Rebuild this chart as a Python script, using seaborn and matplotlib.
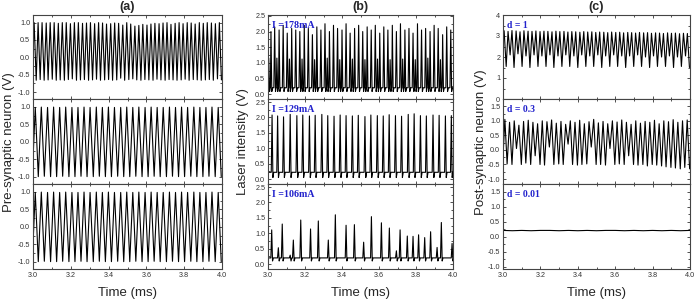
import numpy as np
import pandas as pd
import matplotlib
matplotlib.use("Agg")
import matplotlib.pyplot as plt
from matplotlib.ticker import MultipleLocator, FormatStrFormatter
import seaborn as sns

# ---------------- data ----------------
# (a) top: pre-synaptic neuron, fast oscillation
a1_peak_t = [3.006, 3.027, 3.048, 3.070, 3.091, 3.112, 3.134, 3.155, 3.176, 3.198,
             3.219, 3.240, 3.262, 3.283, 3.304, 3.326, 3.347, 3.368, 3.389, 3.411,
             3.432, 3.453, 3.475, 3.496, 3.517, 3.539, 3.560, 3.581, 3.603, 3.624,
             3.645, 3.667, 3.688, 3.709, 3.730, 3.752, 3.773, 3.794, 3.816, 3.837,
             3.858, 3.880, 3.901, 3.922, 3.944, 3.965, 3.986]
a1_peak_v = [1.0, 1.0, 1.0, 0.99, 1.0, 1.0, 0.98, 1.0, 1.0, 0.97,
             1.0, 1.0, 0.98, 0.99, 1.0, 0.97, 1.0, 0.99, 0.96, 0.97,
             0.99, 0.98, 0.93, 1.0, 0.96, 0.90, 0.92, 0.95, 0.93, 0.96,
             0.98, 0.97, 0.99, 1.0, 0.95, 0.98, 1.0, 0.97, 1.0, 0.99,
             0.96, 1.0, 0.98, 1.0, 0.99, 0.97, 1.0]
a1_trough_t = [2.995, 3.017, 3.038, 3.059, 3.080, 3.102, 3.123, 3.144, 3.166, 3.187,
               3.208, 3.230, 3.251, 3.272, 3.294, 3.315, 3.336, 3.357, 3.379, 3.400,
               3.421, 3.443, 3.464, 3.485, 3.507, 3.528, 3.549, 3.571, 3.592, 3.613,
               3.635, 3.656, 3.677, 3.699, 3.720, 3.741, 3.762, 3.784, 3.805, 3.826,
               3.848, 3.869, 3.890, 3.912, 3.933, 3.954, 3.976, 3.997]
a1_trough_v = [-0.65, -0.66, -0.64, -0.66, -0.65, -0.63, -0.66, -0.65, -0.66, -0.64,
               -0.62, -0.66, -0.65, -0.64, -0.66, -0.65, -0.63, -0.66, -0.65, -0.64,
               -0.66, -0.65, -0.60, -0.66, -0.64, -0.62, -0.65, -0.66, -0.64, -0.65,
               -0.66, -0.63, -0.65, -0.66, -0.64, -0.65, -0.66, -0.65, -0.63, -0.66,
               -0.64, -0.65, -0.66, -0.65, -0.64, -0.66, -0.62, -0.65]

# (a) middle and bottom: regular oscillation (same trace)
a2_peak_t = [3.012, 3.044, 3.077, 3.109, 3.141, 3.173, 3.206, 3.238, 3.270, 3.302,
             3.335, 3.367, 3.399, 3.431, 3.464, 3.496, 3.528, 3.560, 3.593, 3.625,
             3.657, 3.689, 3.722, 3.754, 3.786, 3.818, 3.851, 3.883, 3.915, 3.947,
             3.980]
a2_peak_v = [0.98, 0.99, 0.98, 0.99, 0.98, 0.99, 0.98, 0.98, 0.99, 0.98,
             0.99, 0.98, 0.99, 0.98, 0.98, 0.99, 0.98, 0.99, 0.98, 0.99,
             0.98, 0.98, 0.99, 0.98, 0.99, 0.98, 0.99, 0.98, 0.98, 0.99,
             0.98]
a2_trough_t = [2.996, 3.028, 3.060, 3.093, 3.125, 3.157, 3.190, 3.222, 3.254, 3.286,
               3.319, 3.351, 3.383, 3.415, 3.448, 3.480, 3.512, 3.544, 3.577, 3.609,
               3.641, 3.673, 3.706, 3.738, 3.770, 3.802, 3.835, 3.867, 3.899, 3.931,
               3.964, 3.996]
a2_trough_v = [-0.99, -0.99, -0.98, -0.99, -0.99, -0.98, -0.99, -0.99, -0.98, -0.99,
               -0.99, -0.98, -0.99, -0.99, -0.98, -0.99, -0.99, -0.98, -0.99, -0.99,
               -0.98, -0.99, -0.99, -0.98, -0.99, -0.99, -0.98, -0.99, -0.99, -0.98,
               -0.99, -0.99]

# (b) top: I = 178 mA, irregular spikes
b1_spike_t = [3.004, 3.016, 3.036, 3.048, 3.060, 3.082, 3.104, 3.116, 3.128, 3.150,
              3.172, 3.184, 3.196, 3.218, 3.240, 3.252, 3.264, 3.286, 3.308, 3.320,
              3.332, 3.354, 3.376, 3.388, 3.400, 3.422, 3.444, 3.456, 3.468, 3.490,
              3.512, 3.524, 3.536, 3.558, 3.580, 3.592, 3.604, 3.626, 3.648, 3.660,
              3.672, 3.694, 3.716, 3.728, 3.740, 3.762, 3.784, 3.796, 3.808, 3.830,
              3.852, 3.864, 3.876, 3.898, 3.920, 3.932, 3.944, 3.966, 3.988]
b1_spike_v = [1.15, 2.00, 2.15, 1.15, 2.05, 2.20, 1.95, 1.12, 2.10, 2.05,
              2.00, 1.12, 2.20, 2.10, 1.90, 1.10, 2.15, 2.05, 2.25, 1.15,
              2.00, 2.20, 2.10, 1.10, 2.05, 2.25, 1.95, 1.12, 2.10, 2.20,
              2.00, 1.10, 2.15, 2.05, 2.20, 1.12, 1.95, 2.15, 2.05, 1.10,
              2.20, 2.00, 2.25, 1.12, 2.05, 2.10, 1.95, 1.10, 2.25, 2.05,
              2.10, 1.15, 2.00, 2.20, 2.10, 1.10, 1.90, 2.15, 2.05]

# (b) middle: I = 129 mA, regular spikes
b2_spike_t = [3.022, 3.052, 3.084, 3.120, 3.156, 3.188, 3.224, 3.255, 3.291, 3.323,
              3.357, 3.390, 3.422, 3.456, 3.488, 3.524, 3.556, 3.591, 3.623, 3.655,
              3.689, 3.722, 3.758, 3.790, 3.824, 3.856, 3.892, 3.925, 3.959, 3.991]
b2_spike_v = [2.08, 2.05, 2.02, 2.10, 2.06, 2.08, 2.05, 2.07, 2.10, 2.06,
              2.04, 2.08, 2.06, 2.05, 2.07, 2.03, 2.08, 2.06, 2.05, 2.09,
              2.06, 2.04, 2.10, 2.12, 2.06, 2.05, 2.08, 2.07, 2.05, 2.06]

# (b) bottom: I = 106 mA, sparse spikes
b3_spike_t = [3.020, 3.056, 3.077, 3.120, 3.137, 3.177, 3.230, 3.272, 3.326, 3.364,
              3.422, 3.467, 3.517, 3.559, 3.613, 3.656, 3.694, 3.714, 3.753, 3.784,
              3.814, 3.847, 3.879, 3.914, 3.937, 3.995]
b3_spike_v = [1.11, 0.53, 1.30, 0.29, 0.78, 1.43, 1.14, 1.40, 0.78, 1.60,
              1.26, 1.28, 0.71, 1.54, 1.34, 1.17, 0.43, 1.11, 0.91, 0.90,
              0.95, 0.86, 1.05, 0.54, 1.35, 0.67]

# (c) top: d = 1
c1_peak_t = a1_peak_t
c1_peak_v = [3.25, 3.22, 3.26, 3.24, 3.20, 3.25, 3.23, 3.22, 3.24, 3.21,
             3.23, 3.22, 3.20, 3.23, 3.21, 3.22, 3.19, 3.21, 3.20, 3.18,
             3.21, 3.19, 3.20, 3.17, 3.19, 3.18, 3.16, 3.19, 3.17, 3.18,
             3.15, 3.17, 3.16, 3.14, 3.17, 3.15, 3.16, 3.13, 3.15, 3.14,
             3.12, 3.15, 3.13, 3.14, 3.11, 3.13, 3.12]
c1_trough_t = a1_trough_t
c1_trough_v = [2.10, 1.55, 2.10, 1.50, 2.15, 1.55, 2.05, 1.50, 2.10, 1.55,
               2.05, 1.55, 2.10, 1.50, 2.05, 1.55, 2.10, 1.55, 2.05, 1.50,
               2.10, 1.55, 2.05, 1.55, 2.10, 1.50, 2.05, 1.55, 2.10, 1.55,
               2.05, 1.50, 2.05, 1.55, 2.10, 1.55, 2.00, 1.50, 2.05, 1.55,
               2.00, 1.55, 2.05, 1.50, 2.00, 1.55, 2.05, 1.50]

# (c) middle: d = 0.3
c2_peak_t = [3.010, 3.035, 3.060, 3.085, 3.110, 3.135, 3.160, 3.185, 3.210, 3.235,
             3.260, 3.285, 3.310, 3.335, 3.360, 3.385, 3.410, 3.435, 3.460, 3.485,
             3.510, 3.535, 3.560, 3.585, 3.610, 3.635, 3.660, 3.685, 3.710, 3.735,
             3.760, 3.785, 3.810, 3.835, 3.860, 3.885, 3.910, 3.935, 3.960, 3.985]
c2_peak_v = [1.05, 0.95, 1.00, 0.85, 0.98, 1.02, 0.95, 0.90, 1.00, 0.97,
             1.03, 0.92, 0.98, 0.88, 1.00, 0.95, 1.02, 0.90, 0.97, 1.05,
             0.93, 0.98, 0.90, 1.00, 0.96, 1.03, 0.95, 0.88, 1.00, 0.92,
             0.98, 0.95, 1.02, 0.90, 1.00, 0.97, 1.04, 0.95, 1.00, 1.03]
c2_trough_t = [2.998, 3.022, 3.048, 3.072, 3.098, 3.122, 3.148, 3.172, 3.198, 3.222,
               3.248, 3.272, 3.298, 3.322, 3.348, 3.372, 3.398, 3.422, 3.448, 3.472,
               3.498, 3.522, 3.548, 3.572, 3.598, 3.622, 3.648, 3.672, 3.698, 3.722,
               3.748, 3.772, 3.798, 3.822, 3.848, 3.872, 3.898, 3.922, 3.948, 3.972,
               3.998]
c2_trough_v = [-0.50, -0.48, -0.50, 0.05, -0.50, -0.45, -0.50, -0.20, -0.50, -0.52,
               0.10, -0.50, -0.48, -0.50, 0.20, -0.50, -0.52, -0.50, -0.48, 0.10,
               -0.50, -0.50, -0.52, 0.05, -0.50, -0.48, -0.50, -0.20, -0.50, -0.52,
               -0.50, -0.55, -0.50, -0.52, -0.55, -0.58, -0.60, -0.62, -0.65, -0.60,
               -0.65]

# (c) bottom: d = 0.01, flat trace
c3_t = [3.00, 3.05, 3.10, 3.15, 3.20, 3.25, 3.30, 3.35, 3.40, 3.45, 3.50,
        3.55, 3.60, 3.65, 3.70, 3.75, 3.80, 3.85, 3.90, 3.95, 4.00]
c3_v = [0.21, 0.20, 0.21, 0.20, 0.21, 0.21, 0.20, 0.21, 0.20, 0.21, 0.20,
        0.21, 0.21, 0.20, 0.21, 0.20, 0.21, 0.20, 0.21, 0.20, 0.21]

panel_titles = ["(a)", "(b)", "(c)"]
y_labels = ["Pre-synaptic neuron (V)", "Laser intensity (V)", "Post-synaptic neuron (V)"]
b_labels = ["I =178mA", "I =129mA", "I =106mA"]
c_labels = ["d = 1", "d = 0.3", "d = 0.01"]


def extrema_frame(pt, pv, tt, tv):
    df = pd.DataFrame({"t": list(pt) + list(tt), "v": list(pv) + list(tv)})
    return df.sort_values("t")


def spike_frame(times, heights, base=0.2, dip=0.06, w=0.0045):
    rows = [(2.99, base)]
    for t, h in zip(times, heights):
        rows += [(t - w, base), (t, h), (t + w, dip), (t + 2 * w, base)]
    rows.append((4.01, base))
    return pd.DataFrame(rows, columns=["t", "v"])


traces = [
    [extrema_frame(a1_peak_t, a1_peak_v, a1_trough_t, a1_trough_v),
     extrema_frame(a2_peak_t, a2_peak_v, a2_trough_t, a2_trough_v),
     extrema_frame(a2_peak_t, a2_peak_v, a2_trough_t, a2_trough_v)],
    [spike_frame(b1_spike_t, b1_spike_v, base=0.2, dip=0.08),
     spike_frame(b2_spike_t, b2_spike_v, base=0.22, dip=0.05),
     spike_frame(b3_spike_t, b3_spike_v, base=0.2, dip=0.1)],
    [extrema_frame(c1_peak_t, c1_peak_v, c1_trough_t, c1_trough_v),
     extrema_frame(c2_peak_t, c2_peak_v, c2_trough_t, c2_trough_v),
     pd.DataFrame({"t": c3_t, "v": c3_v})],
]

# ---------------- figure ----------------
sns.set_style("ticks")
plt.rcParams["font.family"] = ["Liberation Sans", "DejaVu Sans"]

W, H = 697, 308
fig = plt.figure(figsize=(W / 100, H / 100), dpi=100)

col_left = [33, 268, 503]
col_width = [189, 185, 187]
row_edges = [15, 99, 184, 269]

ylims = [[(-1.2, 1.22)] * 3,
         [(-0.16, 2.53), (-0.16, 2.6), (-0.16, 2.6)],
         [(0, 4), (-1.17, 1.75), (-1.07, 1.75)]]
ymajor = [[0.5] * 3, [0.5] * 3, [1, 0.5, 0.5]]
yfmt = [["%.1f"] * 3, ["%.1f"] * 3, ["%d", "%.1f", "%.1f"]]

lab_color = "#2222cc"

for c in range(3):
    for r in range(3):
        top = row_edges[r]
        bot = row_edges[r + 1]
        ax = fig.add_axes([col_left[c] / W, 1 - bot / H, col_width[c] / W, (bot - top) / H])
        df = traces[c][r]
        sns.lineplot(data=df, x="t", y="v", ax=ax, color="black", lw=0.8,
                     estimator=None, sort=True)
        ax.set_xlim(3.0, 4.0)
        ax.set_ylim(*ylims[c][r])
        ax.set_xlabel("")
        ax.set_ylabel("")
        ax.xaxis.set_major_locator(MultipleLocator(0.2))
        ax.xaxis.set_minor_locator(MultipleLocator(0.1))
        ax.yaxis.set_major_locator(MultipleLocator(ymajor[c][r]))
        ax.yaxis.set_minor_locator(MultipleLocator(ymajor[c][r] / 2))
        ax.yaxis.set_major_formatter(FormatStrFormatter(yfmt[c][r]))
        ax.tick_params(which="both", direction="in", top=True, right=True,
                       length=2.5, width=0.6, colors="#333333", labelsize=5.2, pad=2)
        ax.tick_params(which="minor", length=1.5)
        for s in ax.spines.values():
            s.set_linewidth(0.8)
            s.set_color("#444444")
        if r < 2:
            ax.tick_params(labelbottom=False)
        else:
            ax.xaxis.set_major_formatter(FormatStrFormatter("%.1f"))
        if c == 1:
            ax.text(0.02, 0.88, b_labels[r], transform=ax.transAxes, color=lab_color,
                    fontsize=7.2, fontweight="bold", family="Liberation Serif", va="center")
        if c == 2:
            ax.text(0.02, 0.88, c_labels[r], transform=ax.transAxes, color=lab_color,
                    fontsize=7.0, fontweight="bold", family="Liberation Serif", va="center")

y_lab_x = [9, 243, 481]
for c in range(3):
    cx = (col_left[c] + col_width[c] / 2) / W
    fig.text(cx, 1 - 7 / H, panel_titles[c], ha="center", va="center",
             fontsize=9, fontweight="bold")
    fig.text(cx, 1 - 293 / H, "Time (ms)", ha="center", va="center", fontsize=9.5)
    fig.text(y_lab_x[c] / W, 1 - 142 / H, y_labels[c], ha="center", va="center",
             rotation=90, fontsize=9.5)

fig.savefig("out.png", dpi=100)
